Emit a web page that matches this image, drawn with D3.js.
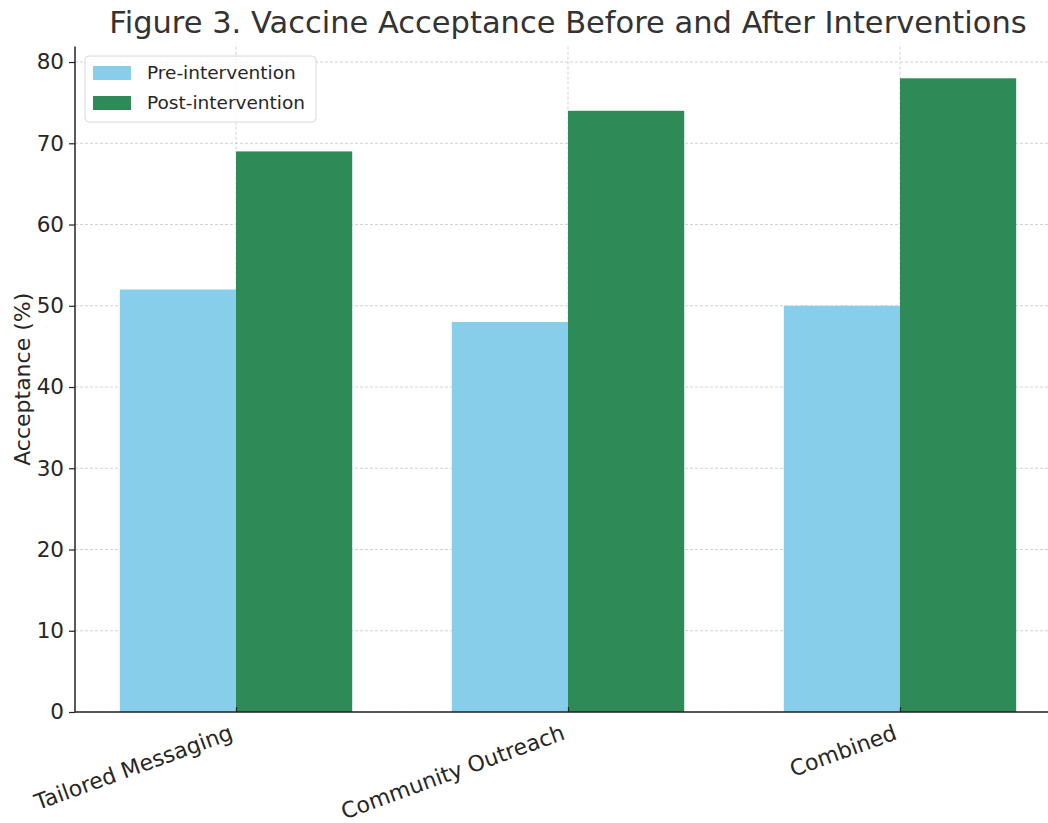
<!DOCTYPE html>
<html>
<head>
<meta charset="utf-8">
<script src="https://cdn.jsdelivr.net/npm/d3@7"></script>
<style>
  html, body { margin: 0; padding: 0; background: #fff; }
  svg { display: block; font-family: "DejaVu Sans", sans-serif; }
</style>
</head>
<body>
<svg id="chart" width="1048" height="823"></svg>
<script>
// Intervention categories and acceptance (%) before / after
const categories = ["Tailored Messaging", "Community Outreach", "Combined"];
const preValues = [52, 48, 50];
const postValues = [69, 74, 78];
const seriesNames = ["Pre-intervention", "Post-intervention"];
const seriesColors = ["#87CEEB", "#2E8B57"];
const yTicks = [0, 10, 20, 30, 40, 50, 60, 70, 80];

const barWidth = 0.35;
const svg = d3.select("#chart");

// Numeric x positions (category index), padded like a default autoscale
const x = d3.scaleLinear().domain([-0.485, 2.485]).range([75, 1061]);
const y = d3.scaleLinear().domain([0, 81.9]).range([712, 46.6]);

const textColor = "#262626";

// Grid lines
const grid = svg.append("g").attr("class", "grid");
grid.selectAll("line.h").data(yTicks).join("line")
  .attr("class", "h")
  .attr("x1", x(-0.485)).attr("x2", 1048)
  .attr("y1", d => y(d)).attr("y2", d => y(d))
  .attr("stroke", "#d2d2d2").attr("stroke-width", 1)
  .attr("stroke-dasharray", "3,2");
grid.selectAll("line.v").data(categories.map((c, i) => i)).join("line")
  .attr("class", "v")
  .attr("x1", d => x(d)).attr("x2", d => x(d))
  .attr("y1", y(81.9)).attr("y2", y(0))
  .attr("stroke", "#d2d2d2").attr("stroke-width", 1)
  .attr("stroke-dasharray", "3,2");

// Bars
const series = [preValues, postValues];
series.forEach((vals, s) => {
  const offset = s === 0 ? -barWidth / 2 : barWidth / 2;
  svg.append("g").selectAll("rect").data(vals).join("rect")
    .attr("x", (d, i) => x(i + offset - barWidth / 2))
    .attr("width", x(barWidth) - x(0))
    .attr("y", d => y(d))
    .attr("height", d => y(0) - y(d))
    .attr("fill", seriesColors[s]);
});

// Y axis
const yAxis = svg.append("g")
  .attr("transform", `translate(${x(-0.485)},0)`)
  .call(d3.axisLeft(y).tickValues(yTicks).tickSize(6).tickPadding(5));
yAxis.select(".domain").attr("stroke", "#222").attr("stroke-width", 1.5)
  .attr("d", `M0,${y(81.9)}V${y(0)}`);
yAxis.selectAll(".tick line").attr("stroke", "#222").attr("stroke-width", 1.2);
yAxis.selectAll(".tick text").attr("fill", textColor)
  .style("font-size", "21.5px").style("font-family", "DejaVu Sans");

// X axis
const xAxis = svg.append("g")
  .attr("transform", `translate(0,${y(0)})`)
  .call(d3.axisBottom(x).tickValues(categories.map((c, i) => i))
    .tickFormat(i => categories[i]).tickSize(-5).tickPadding(0));
xAxis.select(".domain").attr("stroke", "#222").attr("stroke-width", 1.5)
  .attr("d", `M${x(-0.485)},0H1048`);
xAxis.selectAll(".tick line").attr("stroke", "#222").attr("stroke-width", 1.2);
xAxis.selectAll(".tick text")
  .attr("fill", textColor)
  .style("font-size", "22px").style("font-family", "DejaVu Sans")
  .attr("text-anchor", "end")
  .attr("y", 0).attr("dy", "0.76em")
  .attr("transform", "translate(-8,11) rotate(-20)");

// Y axis label
svg.append("text")
  .attr("transform", `translate(30,${(y(0) + y(81.9)) / 2}) rotate(-90)`)
  .attr("text-anchor", "middle")
  .attr("fill", textColor)
  .style("font-size", "22px")
  .text("Acceptance (%)");

// Title
svg.append("text")
  .attr("x", (x(-0.485) + x(2.485)) / 2)
  .attr("y", 33)
  .attr("text-anchor", "middle")
  .attr("fill", "#333")
  .style("font-size", "30.5px")
  .text("Figure 3. Vaccine Acceptance Before and After Interventions");

// Legend
const legend = svg.append("g").attr("transform", "translate(85,56)");
legend.append("rect")
  .attr("width", 231).attr("height", 66).attr("rx", 4)
  .attr("fill", "#fff").attr("fill-opacity", 0.8)
  .attr("stroke", "#d8d8d8").attr("stroke-width", 1);
seriesNames.forEach((name, i) => {
  const g = legend.append("g").attr("transform", `translate(8,${10 + i * 30})`);
  g.append("rect").attr("width", 38).attr("height", 14).attr("fill", seriesColors[i]);
  g.append("text").attr("x", 54).attr("y", 7).attr("dy", "0.35em")
    .attr("fill", textColor).style("font-size", "18.5px").text(name);
});
</script>
</body>
</html>
